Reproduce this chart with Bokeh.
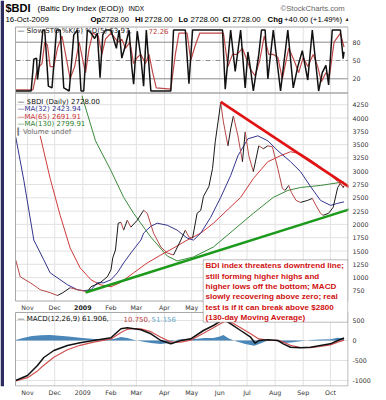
from bokeh.plotting import figure
from bokeh.models import Range1d, FixedTicker, Label, BoxAnnotation
from bokeh.embed import file_html
from bokeh.resources import INLINE
from bokeh.core.properties import value

# ---------------- data (x = days since 2008-11-01) ----------------
price_days = [-13, -8, 3, 11, 14, 25, 33, 39, 47, 55, 66, 70, 80, 88, 92, 94, 97, 100, 103, 106,
              110, 114, 121, 128, 132, 139, 147, 154, 161, 169, 174, 178, 182, 187, 191, 194, 200, 204, 207, 211,
              213, 216, 221, 224, 227, 232, 237, 240, 244, 249, 255, 260, 265, 270, 276, 281, 284, 288, 291, 296,
              301, 309, 314, 318, 323, 326, 332, 337, 342, 345, 348, 349]
price_vals = [1332, 1015, 903, 810, 772, 716, 663, 716, 810, 772, 735, 828, 903, 1015, 1145, 1370, 1519, 2022, 2041, 1892,
              2078, 1948, 2078, 2265, 2209, 1836, 1575, 1463, 1425, 1705, 1892, 1761, 1743, 2209, 2265, 2526, 2713, 3049, 3553, 4038,
              4291, 3926, 3478, 3795, 4038, 3665, 3179, 3739, 3291, 2993, 3478, 3422, 3478, 3459, 3049, 2676, 2640, 2732, 2600, 2452,
              2414, 2452, 2489, 2358, 2209, 2172, 2209, 2321, 2694, 2769, 2694, 2728]

ma32_days = [-13, -4, 7, 18, 25, 44, 55, 62, 70, 77, 84, 92, 99, 106, 114, 125, 128, 136, 143, 154,
             165, 176, 183, 191, 202, 213, 224, 232, 243, 254, 265, 276, 290, 301, 312, 323, 334, 342, 349]
ma32_vals = [3646, 2825, 1705, 1332, 1089, 866, 772, 754, 772, 903, 903, 959, 1089, 1276, 1463, 1705, 1836, 1966, 2022, 1985,
             1892, 1743, 1705, 1836, 2134, 2508, 2918, 3291, 3609, 3665, 3571, 3385, 3179, 2993, 2713, 2452, 2358, 2396, 2424]

ma65_days = [14, 25, 36, 47, 58, 70, 80, 92, 102, 117, 132, 147, 161, 176, 191, 205, 220, 235, 249, 265,
             279, 290, 301, 315, 331, 342, 349]
ma65_vals = [3665, 2862, 2172, 1556, 1183, 959, 866, 828, 903, 1089, 1276, 1425, 1556, 1705, 1836, 2022, 2265, 2508, 2862, 3179,
             3291, 3366, 3329, 3179, 2974, 2806, 2692]

ma130_days = [60, 75, 92, 106, 117, 136, 154, 165, 183, 205, 227, 249, 271, 287, 301, 323, 349]
ma130_vals = [4420, 3571, 3011, 2508, 2209, 1761, 1407, 1313, 1388, 1575, 1892, 2209, 2508, 2638, 2694, 2732, 2800]

down_trend_days = [213, 356]
down_trend_vals = [4305, 2689]
up_trend_days = [64, 358]
up_trend_vals = [720, 2299]

stok_days = [-13, 4, 7, 10, 11, 14, 17, 19, 23, 27, 32, 36, 40, 46, 51, 55, 59, 62, 66, 69,
             74, 77, 80, 83, 86, 92, 98, 101, 104, 108, 112, 115, 117, 121, 125, 128, 131, 136, 158, 161,
             174, 178, 182, 215, 218, 224, 229, 235, 240, 243, 246, 249, 255, 258, 262, 265, 271, 279, 287, 293,
             298, 303, 309, 314, 321, 325, 329, 332, 336, 345, 348, 349]
stok_vals = [0, 0, 52, 54, 19, 54, 100, 100, 8, 5, 100, 100, 5, 0, 92, 100, 0, 0, 100, 97,
             86, 95, 22, 92, 100, 100, 70, 100, 54, 75, 100, 39, 11, 98, 55, 8, 100, 0, 0, 100,
             100, 12, 100, 100, 3, 100, 32, 100, 5, 64, 35, 0, 60, 100, 100, 20, 100, 0, 100, 5,
             40, 66, 18, 100, 0, 30, 42, 10, 100, 100, 53, 64]

stod_days = [-13, 6, 10, 13, 16, 19, 22, 25, 29, 33, 38, 42, 47, 52, 57, 61, 64, 68, 72, 78,
             82, 86, 92, 100, 104, 108, 113, 117, 121, 125, 130, 134, 138, 142, 158, 163, 167, 176, 180, 185,
             190, 216, 221, 226, 231, 237, 242, 246, 251, 256, 261, 266, 271, 276, 281, 288, 294, 299, 304, 309,
             315, 320, 324, 329, 333, 338, 345, 349]
stod_vals = [2, 2, 30, 40, 45, 80, 75, 40, 40, 70, 90, 60, 20, 40, 80, 50, 30, 70, 95, 90,
             60, 85, 95, 80, 85, 70, 80, 45, 55, 60, 45, 60, 30, 5, 3, 60, 95, 95, 50, 75,
             95, 95, 40, 60, 60, 70, 50, 35, 25, 50, 90, 60, 60, 55, 20, 70, 50, 30, 55, 40,
             60, 40, 15, 30, 25, 80, 95, 72]

macd_days = [-13, 0, 11, 18, 29, 44, 58, 73, 92, 103, 110, 125, 136, 147, 158, 169, 180, 194, 205, 211,
             215, 224, 235, 246, 251, 255, 265, 276, 282, 290, 301, 312, 323, 334, 342, 349]
macd_vals = [-1000, -875, -625, -425, -250, -125, -58, 0, 68, 293, 318, 268, 168, 0, -83, 0, 43, 250, 375, 458,
             550, 418, 250, 83, -68, 0, 18, 0, -83, -168, -183, -168, -125, -83, 0, 62]
sig_days = [-13, 0, 11, 18, 29, 44, 58, 73, 92, 103, 110, 118, 125, 136, 147, 158, 169, 180, 194, 205,
            211, 218, 226, 235, 246, 255, 265, 276, 282, 290, 301, 312, 323, 334, 342, 349]
sig_vals = [-1010, -930, -760, -620, -420, -230, -120, -40, 40, 200, 280, 300, 290, 220, 80, -40, -40, 10, 180, 320,
            400, 480, 440, 320, 170, 40, 10, 5, -40, -120, -175, -180, -150, -110, -40, 11]
hist_days = [-13, -5, 5, 15, 25, 35, 45, 58, 73, 85, 95, 103, 110, 118, 125, 136, 147, 155, 165, 175,
             185, 195, 205, 212, 216, 222, 230, 240, 250, 256, 265, 276, 282, 290, 301, 312, 323, 334, 342, 349]
hist_vals = [10, 60, 110, 130, 140, 120, 100, 70, 40, 30, 40, 90, 60, 10, -20, -60, -90, -60, 20, 40,
             40, 60, 60, 100, 140, 50, -20, -90, -130, -80, 0, -20, -60, -50, -20, 10, 25, 30, 70, 51]

month_days = [0, 30, 61, 92, 120, 151, 181, 212, 242, 273, 304, 334]
month_labels = ["Nov", "Dec", "2009", "Feb", "Mar", "Apr", "May", "Jun", "Jul", "Aug", "Sep", "Oct"]
price_ticks = [750, 1000, 1250, 1500, 1750, 2000, 2250, 2500, 2750, 3000, 3250, 3500, 3750, 4000, 4250]
sto_ticks = [20, 50, 80]
macd_ticks = [-1000, -500, 0, 500]

note_lines = ["BDI index threatens downtrend line;",
              "still forming higher highs and",
              "higher lows off the bottom; MACD",
              "slowly recovering above zero; real",
              "test is if it can break above $2800",
              "(130-day Moving Average)"]

# ---------------- layout helpers (reference pixel -> data units) ----------------
W, H = 386, 400
RB, BB = 38, 14
ref_w = W - RB
ref_h = H - BB

def X(rx):
    return (rx - 27.0) / 0.907

def YM(ry):
    return 1500.0 + (250.5 - ry) * 18.8

def YS(ry):
    return (90.5 - ry) / 0.61

def YD(ry):
    return (340.0 - ry) / 0.04

def RS(s):
    return 90.5 - 0.61 * s

def RD(m):
    return 340.0 - 0.04 * m

p = figure(width=W, height=H, output_backend="svg", toolbar_location=None,
           x_range=Range1d(X(0), X(ref_w)), y_range=Range1d(YM(ref_h), YM(0)),
           y_axis_location="right",
           min_border_left=0, min_border_top=0, min_border_right=RB, min_border_bottom=BB,
           background_fill_color="white", border_fill_color="white", outline_line_color=None)
p.extra_y_ranges = {"sto": Range1d(YS(ref_h), YS(0)), "macd": Range1d(YD(ref_h), YD(0))}
p.xgrid.visible = False
p.ygrid.visible = False

GRID = "#e2e2e2"
FRAME = "#a8a8a8"
L, R = X(15), X(347.5)

# panels: (top, bottom) in reference pixels
panels = [(26.5, 92.5), (92.5, 300.5), (312.0, 385.5)]
for top, bot in panels:
    p.segment(x0=month_days, x1=month_days, y0=YM(bot), y1=YM(top), line_color=GRID, line_width=1)

# horizontal grids
p.segment(x0=L, x1=R, y0=price_ticks, y1=price_ticks, line_color=GRID, line_width=1)
p.segment(x0=L, x1=R, y0=macd_ticks, y1=macd_ticks, line_color=GRID, line_width=1, y_range_name="macd")
p.segment(x0=L, x1=R, y0=[20, 80], y1=[20, 80], line_color="#8c8c8c", line_width=1, y_range_name="sto")
p.segment(x0=L, x1=R, y0=[50], y1=[50], line_color="#8c8c8c", line_width=1, line_dash="5 2 1 2",
          y_range_name="sto")

# left navy bar
p.quad(left=X(0), right=X(3.5), top=YM(0), bottom=YM(ref_h), fill_color="#2c2c5e", line_color=None)

# ---- STO panel ----
p.line(stod_days, stod_vals, line_color="#c04848", line_width=1.2, y_range_name="sto")
p.line(stok_days, stok_vals, line_color="#111111", line_width=1.5, y_range_name="sto")

# ---- main panel ----
p.line(ma130_days, ma130_vals, line_color="#3a8a3a", line_width=1)
p.line(ma65_days, ma65_vals, line_color="#d03a3a", line_width=1)
p.line(ma32_days, ma32_vals, line_color="#34348f", line_width=1)
seg_col = ["#b84848" if b < a else "#1a1a1a" for a, b in zip(price_vals[:-1], price_vals[1:])]
p.segment(x0=price_days[:-1], y0=price_vals[:-1], x1=price_days[1:], y1=price_vals[1:],
          line_color=seg_col, line_width=1.0)
p.line(up_trend_days, up_trend_vals, line_color="#1c9a1c", line_width=2.6)
p.line(down_trend_days, down_trend_vals, line_color="#e01414", line_width=2.6)

# ---- MACD panel ----
p.varea(x=hist_days, y1=0, y2=hist_vals, fill_color="#4a86b8", y_range_name="macd")
p.line(sig_days, sig_vals, line_color="#d05050", line_width=1.2, y_range_name="macd")
p.line(macd_days, macd_vals, line_color="#111111", line_width=1.5, y_range_name="macd")

# panel frames
for top, bot in panels:
    p.quad(left=L, right=R, top=YM(top), bottom=YM(bot), fill_color=None, line_color=FRAME, line_width=1)

# month labels between main and MACD panels
mid_days = [d for d, t in zip(month_days, month_labels) if t != "2009"]
mid_txt = [t for t in month_labels if t != "2009"]
p.text(x=mid_days, y=YM(307), text=mid_txt, text_font=value("DejaVu Sans"), text_font_size="6.3px",
       text_color="#333333", text_align="center", text_baseline="middle")
p.text(x=[month_days[2]], y=YM(307), text=[month_labels[2]], text_font=value("DejaVu Sans"),
       text_font_size="6.3px", text_font_style="bold", text_color="#222222", text_align="center",
       text_baseline="middle")

# ---- axes ----
ax = p.yaxis[0]
sto_pos = [round(YM(RS(s))) for s in sto_ticks]
macd_pos = [round(YM(RD(m))) for m in macd_ticks]
ax.ticker = FixedTicker(ticks=price_ticks + sto_pos + macd_pos)
ov = {}
for pos, s in zip(sto_pos, sto_ticks):
    ov[pos] = str(s)
for pos, m in zip(macd_pos, macd_ticks):
    ov[pos] = str(m)
ax.major_label_overrides = ov

xa = p.xaxis[0]
xa.ticker = FixedTicker(ticks=month_days)
xa.major_label_overrides = {d: t for d, t in zip(month_days, month_labels)}

for a in (ax, xa):
    a.axis_line_color = None
    a.major_tick_line_color = None
    a.minor_tick_line_color = None
    a.major_tick_out = 0
    a.major_tick_in = 0
    a.minor_tick_out = 0
    a.minor_tick_in = 0
    a.major_label_text_font = "DejaVu Sans"
    a.major_label_text_font_size = "6.3px"
    a.major_label_text_color = "#333333"
ax.major_label_standoff = 4
xa.major_label_standoff = 2

# ---- texts ----
def lab(rx, ry, text, size, color="#000000", bold=False, font="Liberation Sans", align="left"):
    p.add_layout(Label(x=X(rx), y=YM(ry), text=text, text_font=font, text_font_size=f"{size}px",
                       text_color=color, text_font_style="bold" if bold else "normal",
                       text_baseline="middle", text_align=align))

# header
lab(5, 7, "$BDI", 11, bold=True)
lab(37, 7.5, "(Baltic Dry Index (EOD))", 8)
lab(128, 7.5, "INDX", 6.5)
lab(280, 7.5, "\u00a9StockCharts.com", 7.7, color="#666666")
lab(5, 19, "16-Oct-2009", 7.8)
for rx_b, bt, rx_v, vt in [(90, "Op", 100.5, "2728.00"), (134.5, "Hi", 144, "2728.00"),
                           (178, "Lo", 190, "2728.00"), (222, "Cl", 232, "2728.00"),
                           (267, "Chg", 283.5, "+40.00 (+1.49%)")]:
    lab(rx_b, 19, bt, 7.8, bold=True)
    lab(rx_v, 19, vt, 7.8)
lab(344, 18.5, "\u25b2", 5.5, color="#333333")

# panel legends
lab(17, 30, "\u2014 Slow STO %K(5) %D(5) 63.97,", 7, color="#222222", font="DejaVu Sans")
lab(148, 30, "72.26", 7, color="#c04040", font="DejaVu Sans")
lab(17, 101.3, "\u2014 $BDI (Daily) 2728.00", 7, color="#111111", font="DejaVu Sans")
lab(17, 108.8, "\u2014MA(32) 2423.94", 7, color="#34348f", font="DejaVu Sans")
lab(17, 116.3, "\u2014MA(65) 2691.91", 7, color="#c83434", font="DejaVu Sans")
lab(17, 123.8, "\u2014MA(130) 2799.91", 7, color="#2f7f2f", font="DejaVu Sans")
lab(17, 131.3, "\u258eVolume undef", 7, color="#707070", font="DejaVu Sans")
lab(17, 318.5, "\u2014 MACD(12,26,9) 61.906,", 7, color="#111111", font="DejaVu Sans")
lab(123, 318.5, "10.750,", 7, color="#c04040", font="DejaVu Sans")
lab(151, 318.5, "51.156", 7, color="#6aaacc", font="DejaVu Sans")

# annotation box
p.add_layout(BoxAnnotation(left=X(202.7), right=X(347.3), top=YM(259.3), bottom=YM(321.7),
                           fill_color="white", fill_alpha=1.0, line_color="#222222", line_width=1))
for i, t in enumerate(note_lines):
    lab(205, 265.3 + i * 10.3, t, 8.1, color="#d01010", bold=True)

open("out.html", "w").write(file_html(p, INLINE))
